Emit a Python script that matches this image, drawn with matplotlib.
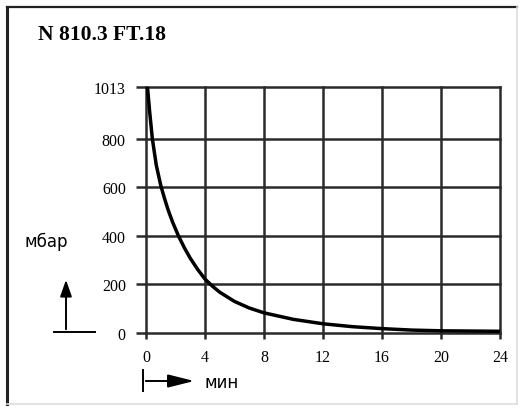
import matplotlib
matplotlib.use("Agg")
import matplotlib.pyplot as plt
from matplotlib.lines import Line2D
from matplotlib.patches import FancyArrowPatch

# Data
time_min = [0.1, 0.25, 0.43, 0.7, 1.0, 1.25, 1.5, 1.8, 2.2, 2.6, 3.0, 3.5, 4.0, 4.5,
            5.0, 6.0, 7.0, 8.0, 10, 12, 14, 16, 18, 20, 22, 24]
pressure_mbar = [1013, 910, 800, 690, 608, 555, 507, 457, 400, 351, 308, 262, 222, 193,
                 168, 130, 103, 83, 56, 38, 26, 18, 12, 9, 8, 7]
x_ticks = [0, 4, 8, 12, 16, 20, 24]
y_ticks = [0, 200, 400, 600, 800, 1013]
title = "N 810.3 FT.18"
y_label = "мбар"
x_label = "мин"

W, H = 521, 410
fig = plt.figure(figsize=(W / 100, H / 100), dpi=100)
fig.patch.set_facecolor("white")

def fx(px):
    return px / W

def fy(py):
    return 1 - py / H

# outer frame
fig.add_artist(Line2D([fx(7), fx(7)], [fy(8), fy(405)], color="#222222", lw=2.2))
fig.add_artist(Line2D([fx(7), fx(517)], [fy(8), fy(8)], color="#222222", lw=1.6))
fig.add_artist(Line2D([fx(517), fx(517)], [fy(8), fy(405)], color="#dddddd", lw=1.2))
fig.add_artist(Line2D([fx(7), fx(517)], [fy(405), fy(405)], color="#dddddd", lw=1.2))

ax = fig.add_axes([fx(146), fy(334), fx(500) - fx(146), fy(88) - fy(334)])
ax.set_xlim(x_ticks[0], x_ticks[-1])
ax.set_ylim(y_ticks[0], y_ticks[-1])

grid_c = "#2a2a2a"
for s in ax.spines.values():
    s.set_visible(False)
for xv in x_ticks:
    ax.axvline(xv, color=grid_c, lw=1.8, clip_on=False, zorder=1)
for yv in y_ticks:
    ax.axhline(yv, color=grid_c, lw=1.8, clip_on=False, zorder=1)

ax.plot(time_min, pressure_mbar, color="black", lw=2.5, zorder=3,
        solid_capstyle="butt", solid_joinstyle="round", clip_on=False)

ax.set_xticks(x_ticks)
ax.set_yticks(y_ticks)
ax.set_xticklabels([str(v) for v in x_ticks])
ax.set_yticklabels([str(v) for v in y_ticks])
ax.tick_params(axis="y", length=7.5, width=1.8, color=grid_c, pad=7, labelsize=11.5)
ax.tick_params(axis="x", length=4.5, width=1.8, color=grid_c, pad=7, labelsize=11.5)
for lab in ax.get_xticklabels() + ax.get_yticklabels():
    lab.set_fontfamily("Liberation Serif")

fig.text(fx(38), fy(35), title, fontsize=15.5, fontweight="bold",
         family="Liberation Serif", ha="left", va="center")
fig.text(fx(25), fy(242), y_label, fontsize=12, family="DejaVu Sans",
         ha="left", va="center")
fig.text(fx(204), fy(383), x_label, fontsize=12, family="DejaVu Sans",
         ha="left", va="center")

# up arrow
fig.add_artist(Line2D([fx(54), fx(95)], [fy(333), fy(333)], color="black", lw=1.4))
fig.add_artist(FancyArrowPatch((fx(66), fy(333)), (fx(66), fy(278)),
                               transform=fig.transFigure, arrowstyle="-|>,head_length=10,head_width=3.5",
                               color="black", lw=1.4, mutation_scale=1))
# right arrow
fig.add_artist(Line2D([fx(143), fx(143)], [fy(371), fy(392)], color="black", lw=1.4))
fig.add_artist(FancyArrowPatch((fx(143), fy(382)), (fx(197), fy(382)),
                               transform=fig.transFigure, arrowstyle="-|>,head_length=16,head_width=4",
                               color="black", lw=1.4, mutation_scale=1))

fig.savefig("out.png", dpi=100, facecolor="white")
